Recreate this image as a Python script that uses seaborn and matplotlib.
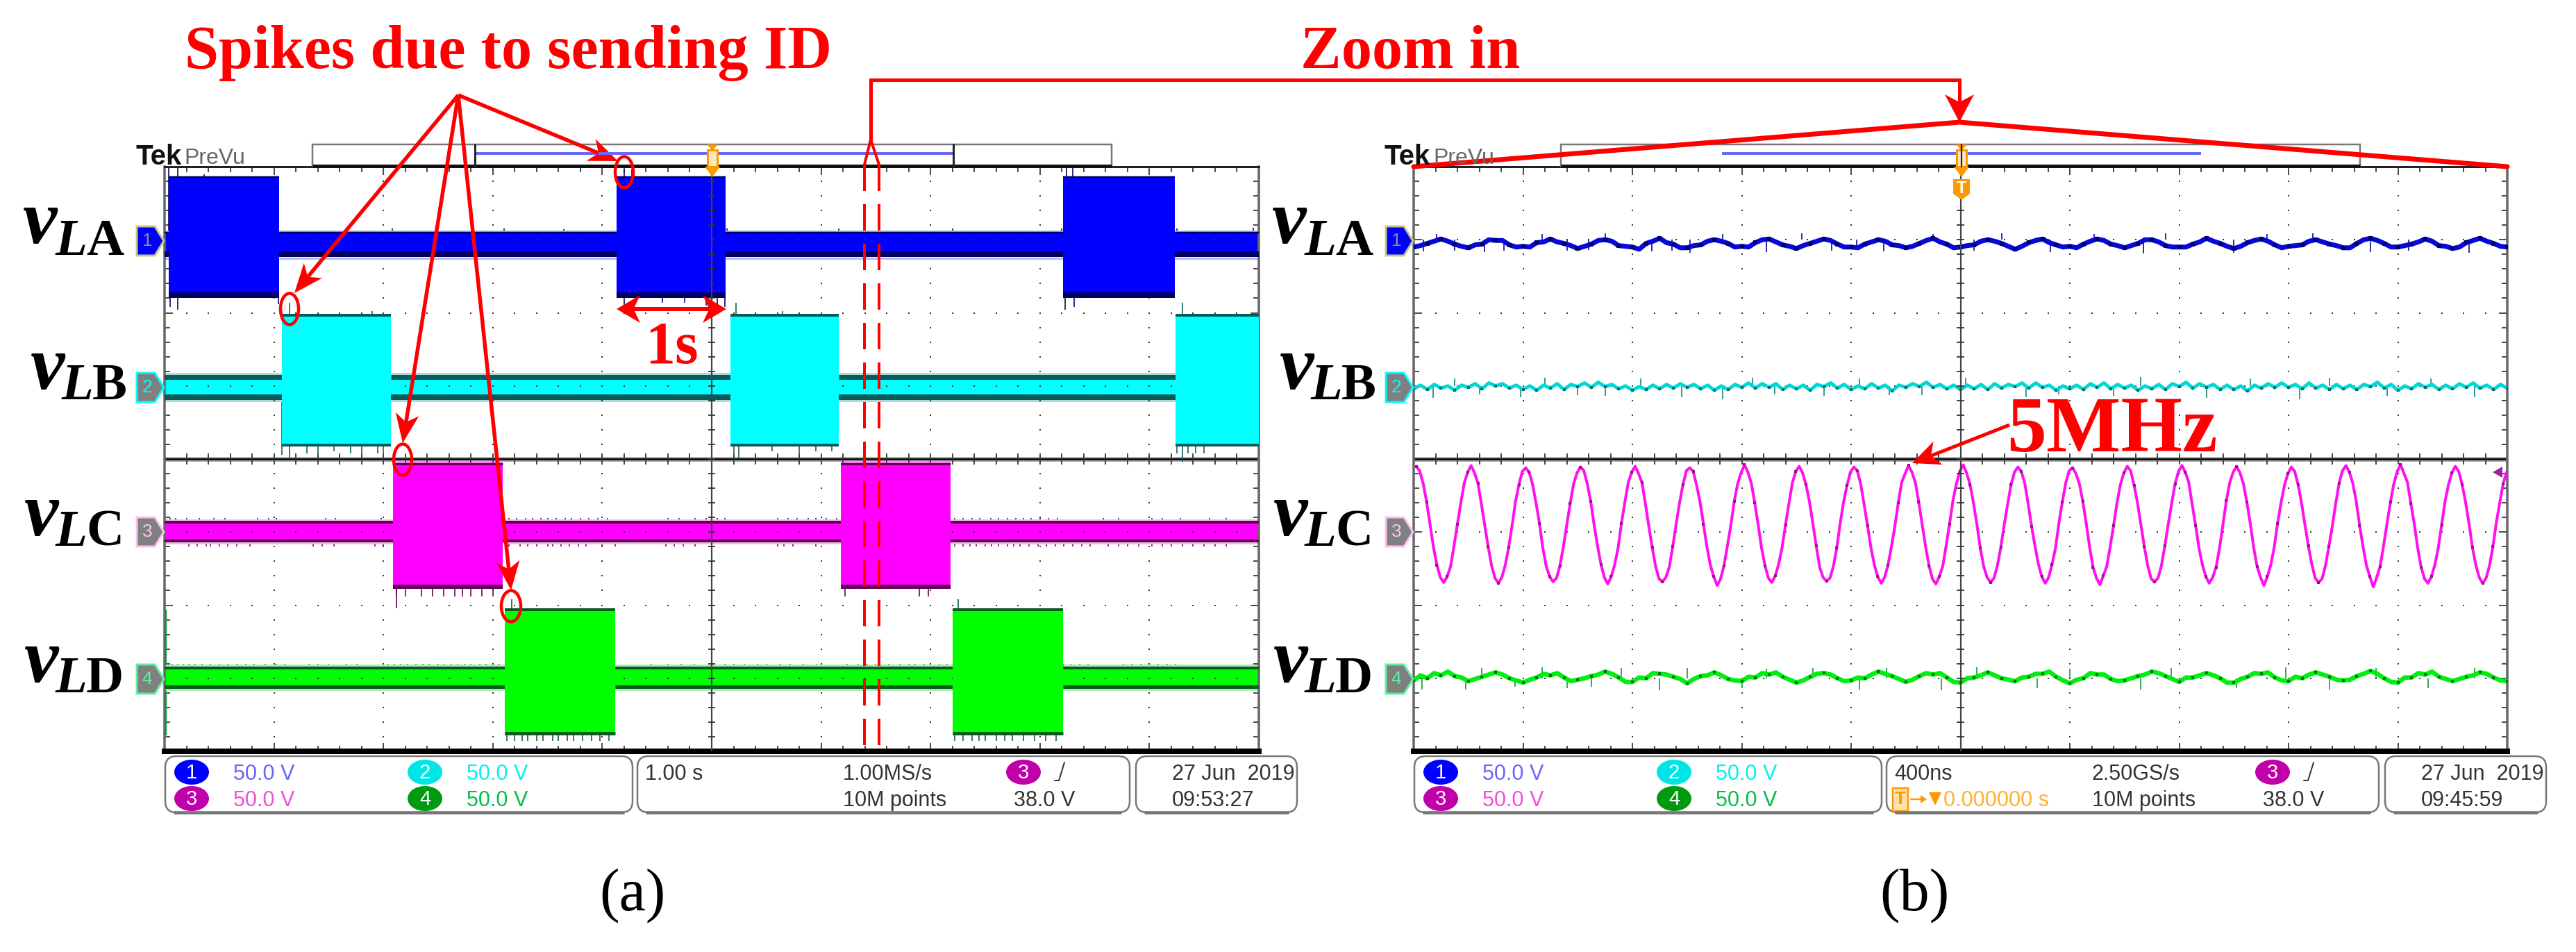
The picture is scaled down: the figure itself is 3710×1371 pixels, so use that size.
# scope captures (a) and (b) redrawn with seaborn
import numpy as np
import pandas as pd
import matplotlib
matplotlib.use('Agg')
import matplotlib.pyplot as plt
import seaborn as sns
from matplotlib.patches import Ellipse, FancyBboxPatch, Polygon, Rectangle

sns.set_style('white')
plt.rcParams['font.family'] = ['Liberation Sans', 'DejaVu Sans']
plt.rcParams['text.color'] = 'black'

# screen (a): one second per division, values in volts
a_ground = [150, 50, -50, -150]
la_on = [0.04, 4.13, 8.21]
la_off = [1.05, 5.13, 9.23]
lb_on = [1.07, 5.17, 9.24]
lb_off = [2.07, 6.16, 10.0]
lc_on = [2.09, 6.18]
lc_off = [3.09, 7.18]
ld_on = [3.11, 7.20]
ld_off = [4.12, 8.21]
la_burst = [43.3, -39.8]
lb_burst = [49.2, -41.5]
lc_burst = [47.5, -39.0]
ld_burst = [47.9, -39.0]
la_base = [5.3, -11.8]
lb_base = [7.6, -9.5]
lc_base = [7.6, -7.0]
ld_base = [8.0, -7.2]

la_spike_t = [0.04, 0.12, 0.36, 0.05, 0.12, 1.04, 2.08, 3.1, 3.65, 4.2, 4.27, 4.2, 4.3, 4.55, 4.75, 4.95, 5.05, 5.12, 5.14, 6.16, 7.2, 8.2, 8.24, 8.3, 8.23, 8.31, 9.25, 9.95]
la_spike_v = [52, 52, 45, -46, -48, -44, 7.5, 7.5, 7.3, 48, 48, -45, -44, -43, -43, -45, -46, -46, 7.5, 7.5, 7.5, 7.5, 50, 50, -48, -46, 7.5, 8]
lb_spike_t = [1.14, 1.9, 5.22, 5.65, 9.3, 1.07, 1.14, 1.3, 1.4, 1.55, 1.7, 1.8, 1.95, 2.0, 5.2, 5.25, 5.55, 5.8, 5.95, 6.1, 9.25, 9.3, 9.35, 9.42, 9.5]
lb_spike_v = [57, 51, 57, 51, 57, -47, -50, -46, -46, -45, -46, -46, -46, -46, -46, -50, -45, -46, -45, -45, -46, -52, -46, -46, -46]
lc_spike_t = [0.05, 0.1, 0.2, 0.32, 0.45, 0.55, 0.85, 0.95, 1.02, 1.47, 1.56, 1.98, 3.15, 3.22, 3.3, 3.36, 3.44, 3.5, 3.58, 3.66, 3.72, 3.8, 3.88, 3.96, 4.05, 4.6, 4.7, 4.85, 4.95, 5.05, 5.12, 5.6, 5.7, 5.78, 5.88, 5.95, 6.05, 6.14, 7.22, 7.3, 7.38, 7.45, 7.55, 7.62, 7.7, 7.78, 7.85, 7.92, 8.0, 8.08, 8.16, 8.58, 8.72, 9.02, 9.12, 9.28, 9.55, 9.7]
lc_low_t = [0.22, 0.3, 0.38, 0.42, 0.5, 0.58, 0.66, 0.78, 1.36, 1.44, 1.55, 1.92, 2.0, 3.15, 3.25, 3.32, 3.4, 3.5, 3.55, 3.62, 3.7, 3.78, 3.85, 4.0, 4.12, 4.58, 4.66, 4.74, 4.85, 5.6, 5.66, 5.74, 5.95, 7.22, 7.3, 7.36, 7.42, 7.5, 7.56, 7.62, 7.7, 7.76, 7.82, 7.9, 7.98, 8.06, 8.14, 8.22, 8.3, 8.38, 8.46, 8.62, 8.72, 8.8, 8.9, 9.02, 9.12, 9.2, 9.3, 9.4, 9.5, 9.6, 9.7]
lc_burst_low_t = [2.12, 2.2, 2.35, 2.45, 2.55, 2.65, 2.72, 2.8, 2.9, 3.0, 6.22, 6.9, 6.98]
ld_spike_t = [0.07, 0.12, 0.17, 0.22, 0.28, 0.34, 0.42, 0.5, 0.58, 0.66, 0.74, 0.82, 0.92, 1.02, 1.1, 1.32, 1.4, 1.5, 1.66, 1.76, 2.04, 2.1, 2.16, 2.22, 2.3, 2.36, 2.42, 2.5, 2.56, 2.62, 2.68, 2.74, 2.8, 2.88, 2.94, 3.0, 3.06, 4.45, 4.6, 4.72, 4.84, 5.12, 5.2, 5.3, 5.42, 5.5, 5.62, 5.72, 5.84, 5.96, 6.24, 6.34, 6.42, 6.5, 6.62, 6.72, 6.8, 6.86, 6.94, 7.0, 7.08, 7.15, 8.22, 8.28, 8.36, 8.44, 8.76, 8.84, 8.92, 9.0, 9.08, 9.16, 9.24, 9.98]
ld_burst_low_t = [3.13, 3.2, 3.27, 3.32, 3.4, 3.46, 3.55, 3.6, 3.68, 3.74, 3.82, 3.9, 3.98, 4.06, 7.22, 7.3, 7.38, 7.44, 7.5, 7.6, 7.68, 7.75, 7.85, 7.95, 8.05, 8.15]
ld_edge_t = [0.01]

# screen (b): 400 ns per division, one sample every 25 ns (12.5 ns for the 5 MHz trace)
b_ground = [150, 50, -50, -150]
la_volts = [
    -5.0, -4.0, -2.5, -1.0, 0.5, -1.0, -3.0, -4.5,
    -5.5, -3.5, -3.0, 0.0, -0.5, -0.5, -3.5, -5.0,
    -4.5, -5.0, -2.0, -1.5, 0.5, -1.5, -2.5, -4.0,
    -6.0, -4.5, -3.0, -0.5, 0.0, -1.0, -4.0, -4.5,
    -5.0, -6.5, -2.5, -1.0, 1.0, -2.0, -3.0, -5.5,
    -5.5, -4.0, -3.5, -1.0, 0.0, -1.0, -2.5, -5.0,
    -4.5, -5.0, -2.0, 0.0, 0.5, -1.5, -3.5, -4.5,
    -6.0, -4.0, -2.5, -1.0, 0.5, -0.5, -3.0, -5.0,
    -5.0, -5.5, -3.0, -1.5, 0.0, -1.0, -3.5, -4.0,
    -5.5, -4.5, -2.5, -0.5, 1.0, -1.5, -3.0, -5.5,
    -5.0, -4.0, -3.5, -1.0, 0.0, -1.0, -2.5, -4.5,
    -6.5, -4.5, -2.0, -0.5, 0.5, -2.0, -3.5, -5.0,
    -4.5, -5.5, -3.0, -1.0, 0.5, -0.5, -3.0, -4.0,
    -5.5, -4.0, -2.5, 0.0, 0.0, -1.5, -4.0, -5.0,
    -5.0, -5.0, -3.0, -1.5, 1.0, -1.0, -2.5, -4.5,
    -6.0, -4.5, -2.0, -0.5, 0.5, -1.0, -3.5, -5.5,
    -4.5, -4.0, -3.5, -1.0, 0.0, -1.5, -3.0, -4.0,
    -5.5, -5.5, -2.5, 0.0, 1.0, -0.5, -2.5, -5.0,
    -5.0, -4.0, -3.0, -1.5, 0.5, -1.0, -4.0, -4.5,
    -6.0, -5.0, -2.0, -0.5, 1.0, -1.0, -2.5, -4.5,
    -5.0]
lb_volts = [
    -2.0, 0.5, -2.5, 1.0, -1.5, 0.0, -3.0, 0.5,
    -1.0, 1.5, -2.0, 2.0, 0.0, 1.5, -1.5, 0.5,
    -2.5, 0.0, -3.0, 0.5, -1.5, 1.5, -2.5, 1.0,
    -0.5, 2.0, -1.0, 2.5, -0.5, 1.0, -2.0, 0.0,
    -3.0, -0.5, -2.5, 0.5, -2.0, 1.0, -1.5, 1.5,
    -1.0, 1.0, -2.0, 0.5, -3.0, 0.0, -2.5, 1.0,
    -1.0, 2.0, -1.5, 1.5, -1.0, 1.5, -2.5, 0.5,
    -2.0, 0.5, -3.0, 1.0, -0.5, 2.0, -1.5, 1.0,
    -2.5, 0.0, -2.0, 1.5, -1.5, 0.5, -3.5, 0.5,
    -1.0, 1.5, -0.5, 2.5, -1.0, 1.0, -2.0, 0.5,
    -2.5, 0.5, -2.0, 1.0, -2.5, 1.5, -1.5, 1.0,
    -0.5, 2.0, -1.5, 2.0, -1.0, 0.5, -3.0, 0.0,
    -2.0, 0.5, -2.5, 1.5, -1.0, 2.0, -2.0, 1.0,
    -1.5, 0.5, -3.0, 0.0, -2.0, 1.0, -2.5, 1.5,
    -0.5, 2.5, -1.5, 1.5, -1.0, 1.0, -2.5, 0.5,
    -2.5, 0.0, -3.5, 0.5, -1.5, 1.5, -1.0, 2.0,
    -1.0, 1.0, -2.0, 2.0, -1.5, 0.5, -2.5, 1.0,
    -2.0, 0.5, -2.5, 1.0, -0.5, 2.5, -1.5, 1.0,
    -3.0, 0.0, -2.0, 1.5, -1.0, 1.0, -2.5, 0.5,
    -2.0, 1.5, -1.0, 2.0, -1.5, 0.5, -2.5, 1.0,
    -1.5]
lc_volts = [
    45.0, 41.5, 33.0, 20.5, 5.0, -10.5, -22.5, -31.0, -34.5, -30.5, -23.5, -9.5, 5.5, 20.0, 33.5, 41.0,
    45.5, 40.5, 33.5, 19.5, 4.5, -10.0, -23.0, -31.5, -35.0, -31.0, -22.5, -10.5, 4.5, 21.0, 32.5, 41.5,
    44.0, 41.0, 32.5, 20.0, 6.0, -11.0, -23.5, -30.5, -34.0, -31.5, -23.0, -10.0, 5.0, 19.5, 33.0, 40.5,
    44.5, 42.0, 33.0, 21.0, 5.0, -9.5, -22.0, -31.0, -35.5, -30.5, -22.5, -11.0, 6.0, 20.5, 34.0, 41.0,
    45.0, 40.0, 34.0, 19.5, 4.0, -10.5, -23.5, -32.0, -34.0, -31.0, -24.0, -10.0, 5.5, 20.0, 32.5, 42.0,
    44.0, 41.5, 32.0, 20.5, 5.5, -10.0, -22.5, -30.5, -36.5, -32.0, -23.0, -9.5, 4.5, 21.0, 33.0, 40.5,
    46.0, 41.0, 33.5, 20.0, 5.0, -11.0, -23.0, -31.5, -34.5, -30.0, -22.0, -10.5, 5.0, 19.5, 33.5, 41.5,
    45.0, 40.5, 32.5, 21.0, 6.0, -9.5, -24.0, -31.0, -33.5, -31.5, -23.5, -11.0, 6.0, 20.5, 32.0, 41.0,
    44.5, 42.0, 33.0, 19.0, 4.5, -10.5, -22.5, -30.5, -35.0, -31.0, -22.5, -10.0, 4.0, 20.0, 34.0, 40.0,
    45.5, 41.0, 34.0, 20.5, 5.0, -10.0, -23.0, -32.0, -35.5, -30.5, -23.5, -9.5, 5.5, 21.5, 33.0, 41.5,
    46.0, 40.5, 32.5, 20.0, 5.5, -11.0, -23.5, -31.0, -34.5, -31.5, -23.0, -10.5, 5.0, 19.0, 32.5, 41.0,
    44.5, 41.5, 33.5, 19.5, 4.0, -9.5, -22.0, -30.5, -35.0, -31.0, -22.0, -11.0, 6.0, 20.5, 33.5, 42.0,
    44.0, 40.0, 33.0, 21.0, 6.0, -10.5, -24.0, -31.5, -36.0, -30.0, -23.5, -10.0, 4.5, 20.0, 32.5, 40.5,
    45.0, 42.0, 32.0, 20.0, 5.0, -10.0, -23.0, -32.0, -34.0, -31.5, -23.0, -9.5, 5.5, 19.5, 33.0, 41.5,
    45.5, 41.0, 34.0, 19.0, 4.5, -11.0, -22.5, -30.5, -35.0, -31.0, -24.0, -11.0, 5.0, 21.5, 34.0, 41.0,
    45.0, 40.5, 33.0, 20.5, 6.0, -10.5, -23.5, -31.0, -36.5, -30.5, -22.5, -10.5, 6.0, 20.0, 32.0, 40.0,
    44.5, 41.5, 32.5, 20.0, 5.0, -9.5, -22.0, -31.5, -34.5, -32.0, -23.0, -10.0, 4.0, 19.5, 33.5, 42.0,
    45.5, 41.0, 33.5, 21.0, 4.5, -10.0, -23.0, -30.5, -37.5, -31.0, -23.5, -9.5, 5.5, 20.5, 33.0, 41.5,
    46.0, 40.0, 34.0, 19.5, 5.5, -11.0, -24.0, -32.0, -35.0, -30.5, -22.5, -11.0, 5.0, 21.0, 32.5, 40.5,
    45.0, 41.5, 32.5, 20.5, 6.0, -10.5, -22.5, -31.0, -35.0, -31.5, -23.0, -10.0, 6.5, 20.0, 33.0, 41.0]
ld_volts = [
    -1.5, 2.0, 0.0, 3.5, 2.0, 4.5, 1.5, 0.5,
    -2.0, -0.5, 1.0, 2.5, 4.0, 2.5, 0.0, -1.5,
    -3.0, -1.0, 0.5, 3.0, 2.0, 3.5, 0.5, -2.0,
    -1.0, 0.0, 1.5, 2.5, 4.5, 3.0, 0.5, -2.5,
    -2.5, 0.5, 0.0, 3.5, 3.0, 2.5, 1.0, -0.5,
    -3.5, -0.5, 1.5, 2.0, 4.0, 2.0, -0.5, -1.5,
    -2.0, 1.0, 0.5, 3.5, 2.5, 4.0, 1.0, -1.0,
    -3.0, -1.5, 1.0, 3.0, 3.5, 2.5, 0.0, -2.0,
    -1.5, 0.5, 0.0, 2.5, 4.5, 3.0, 1.5, -0.5,
    -2.5, -1.0, 1.5, 3.5, 2.5, 3.5, 0.5, -2.5,
    -3.0, 0.0, 0.5, 2.0, 4.0, 2.0, 0.0, -1.0,
    -2.0, 0.5, 1.0, 3.0, 3.0, 4.5, 1.0, -1.5,
    -3.5, -1.0, 0.0, 3.5, 2.5, 2.5, -0.5, -2.0,
    -1.5, 0.0, 1.5, 2.5, 4.5, 3.5, 1.5, -0.5,
    -2.5, 0.5, 0.5, 2.0, 3.5, 2.0, 0.0, -3.0,
    -3.0, -0.5, 1.0, 3.5, 3.0, 4.0, 0.5, -1.5,
    -2.0, 1.0, 0.0, 2.5, 4.0, 2.5, 1.0, -1.0,
    -1.5, -1.0, 1.5, 3.0, 5.0, 3.0, 0.0, -2.5,
    -3.0, 0.5, 0.5, 3.5, 2.5, 4.5, 1.0, -0.5,
    -2.0, -0.5, 1.0, 2.0, 4.0, 3.0, 0.5, -1.5,
    -2.0]
la_b_spike_ns = [35, 85, 150, 260, 330, 470, 560, 640, 700, 870, 945, 1010, 1130, 1290, 1420, 1530, 1620, 1720, 1900, 2050, 2150, 2330, 2490, 2670, 2750, 3000, 3120, 3290, 3500, 3640, 3860]
la_b_spike_v = [-8.0, 4.0, -7.5, -8.5, -7.5, 4.0, -7.5, -7.0, 4.5, -8.0, -7.5, -9.0, 4.0, -8.5, 4.5, -7.5, -7.0, -8.0, 4.0, -7.5, 4.5, -8.5, 4.0, -9.5, 4.5, -9.0, 4.0, 4.5, -8.5, -7.5, -9.0]
lb_b_spike_ns = [70, 150, 240, 390, 480, 600, 700, 830, 980, 1130, 1240, 1320, 1500, 1630, 1740, 1860, 2020, 2240, 2360, 2560, 2660, 2900, 3060, 3240, 3350, 3560, 3720, 3880]
lb_b_spike_v = [-8.0, 5.0, -6.0, -7.5, 5.5, -6.5, -7.0, 5.0, -7.5, -9.0, 5.5, -6.0, -7.0, 5.0, -6.5, -6.5, 5.5, -7.5, -6.0, -7.0, 6.0, -8.0, 5.0, -9.0, 5.5, -7.0, 5.0, -7.5]
ld_b_spike_ns = [30, 190, 250, 370, 470, 560, 650, 760, 900, 1000, 1200, 1290, 1460, 1630, 1730, 1930, 2060, 2280, 2400, 2660, 2770, 3010, 3190, 3350, 3520, 3710, 3880]
ld_b_spike_v = [-7.5, -7.5, 7.0, -6.0, 7.5, -7.0, -6.0, 7.0, -8.0, 7.0, -7.0, 6.5, 7.0, -7.5, 7.0, -8.0, 7.5, -7.0, 6.5, -7.5, 7.0, -7.0, 7.5, -7.5, 7.0, -7.0, 7.0]

channel_names = ['LA', 'LB', 'LC', 'LD']
channel_text = ['1', '2', '3', '4']
volts_text = '50.0 V'
a_time_text = ['1.00 s', '1.00MS/s', '10M points', '38.0 V', '27 Jun  2019', '09:53:27']
b_time_text = ['400ns', '2.50GS/s', '10M points', '38.0 V', '27 Jun  2019', '09:45:59']
trigger_text = '0.000000 s'

PX = 0.72  # one image pixel in points at dpi 100
RED = '#ff0000'
ORANGE = '#ff9900'
bright = ['#0000ff', '#00ffff', '#ff00ff', '#00ff00']
dark = ['#000060', '#0a5a5a', '#600050', '#0a5a20']
pale = ['#b8b8e8', '#a8dcdc', '#f4b8ec', '#a8ecb8']
badge = ['#0000ff', '#00e6e6', '#c000a8', '#009a10']
label_col = ['#6666ff', '#00f0f0', '#f050d8', '#00c040']
mark_fill = ['#0000ff', '#808080', '#808080', '#808080']
mark_edge = ['#c8c880', '#00ffff', '#ffc0f0', '#60f0a0']


def setup_screen(ax, x_max):
    ax.set_xlim(0, x_max)
    ax.set_ylim(-200, 200)
    div = x_max / 10
    ax.set_xticks(np.arange(11) * div)
    ax.set_xticks(np.arange(51) * div / 5, minor=True)
    ax.set_yticks(np.arange(9) * 50 - 200)
    ax.set_yticks(np.arange(41) * 10 - 200, minor=True)
    ax.set_xticklabels([])
    ax.set_yticklabels([])
    for which, ln in (('major', 12), ('minor', 8)):
        ax.tick_params(axis='both', which=which, direction='in', length=ln * PX, width=1.6 * PX,
                       color='#222222', top=True, bottom=True, left=True, right=True)
    for side in ['left', 'right']:
        ax.spines[side].set_color('#666666')
        ax.spines[side].set_linewidth(3.5 * PX)
    ax.spines['bottom'].set_color('#000000')
    ax.spines['bottom'].set_linewidth(8 * PX)
    ax.spines['top'].set_color('#222222')
    ax.spines['top'].set_linewidth(3 * PX)
    # graticule dots
    col_x = np.arange(1, 10) * div
    col_y = np.arange(1, 40) * 10 - 200
    xx, yy = np.meshgrid(col_x, col_y)
    ax.scatter(xx.ravel(), yy.ravel(), s=4, marker='s', color='#333333', linewidths=0, zorder=3)
    row_x = np.arange(1, 50) * div / 5
    for level in [-150, -100, -50, 50, 100, 150]:
        ax.scatter(row_x, np.full(row_x.size, level), s=4, marker='s', color='#333333', linewidths=0, zorder=3)
    # centre cross
    ax.axhline(0, color='#b0b0b0', lw=7 * PX, zorder=1)
    ax.axhline(0, color='#111111', lw=3 * PX, zorder=1)
    ax.axvline(5 * div, color='#444444', lw=2.2 * PX, zorder=5)
    ax.vlines(row_x, -4, 4, color='#333333', lw=1.8 * PX, zorder=1)
    ax.hlines(col_y, 5 * div - div / 30, 5 * div + div / 30, color='#333333', lw=1.8 * PX, zorder=5)


def edges_table(on, off, levels):
    rows = []
    for i, (t0, t1) in enumerate(zip(on, off)):
        for j, level in enumerate(levels):
            rows.append((i * 2 + j, t0, level))
            rows.append((i * 2 + j, t1, level))
    return pd.DataFrame(rows, columns=['segment', 't', 'v'])


def gaps_table(on, off, levels):
    starts = [0.0] + list(off)
    stops = list(on) + [10.0]
    return edges_table(starts, stops, levels)


def burst_trace(ax, idx, on, off, burst, base, widths):
    g = a_ground[idx]
    ax.fill_between([0, 10], g + base[1], g + base[0], color=bright[idx], lw=0, zorder=2)
    for t0, t1 in zip(on, off):
        ax.fill_between([t0, t1], g + burst[1], g + burst[0], color=bright[idx], lw=0, zorder=4)
    # pale glow just outside the base band
    for level, sign in ((base[0], 1), (base[1], -1)):
        table = gaps_table(on, off, [level])
        table['y'] = g + table.v + sign * 0.7
        sns.lineplot(data=table, x='t', y='y', units='segment', estimator=None, color=pale[idx],
                     linewidth=3 * PX, ax=ax, legend=False, zorder=1.8, solid_capstyle='butt')
    # dark rails along the envelope
    for table, lw_rail, top in ((gaps_table(on, off, [base[0]]), widths[0], True),
                                (gaps_table(on, off, [base[1]]), widths[1], False)):
        table['y'] = g + table.v + (-lw_rail * 0.24 if top else lw_rail * 0.24)
        sns.lineplot(data=table, x='t', y='y', units='segment', estimator=None, color=dark[idx],
                     linewidth=lw_rail * PX, ax=ax, legend=False, zorder=3.5, solid_capstyle='butt')
    for table, lw_rail, top in ((edges_table(on, off, [burst[0]]), widths[2], True),
                                (edges_table(on, off, [burst[1]]), widths[3], False)):
        table['y'] = g + table.v + (-lw_rail * 0.24 if top else lw_rail * 0.24)
        sns.lineplot(data=table, x='t', y='y', units='segment', estimator=None, color=dark[idx],
                     linewidth=lw_rail * PX, ax=ax, legend=False, zorder=4.5, solid_capstyle='butt')


def spikes(ax, idx, times, tips, ground, lw=1.6, zorder=1.5, color=None):
    ax.vlines(times, ground[idx], np.asarray(tips) + ground[idx], color=color or dark[idx],
              lw=lw * PX, zorder=zorder)


def ripple(ax, idx, times, volts, line, speck, line_w, speck_size, every):
    y = np.asarray(volts) + b_ground[idx]
    sns.lineplot(x=times, y=y, color=line, linewidth=line_w * PX, ax=ax, estimator=None, legend=False, zorder=4)
    sns.scatterplot(x=times[::every], y=y[::every], color=speck, s=speck_size, marker='s', linewidth=0,
                    ax=ax, legend=False, zorder=4.2)


def arrow(ov, x0, y0, x1, y1, lw=5.5, length=42, half=17):
    d = np.array([x1 - x0, y1 - y0], dtype=float)
    d /= np.hypot(*d)
    n = np.array([-d[1], d[0]])
    tip = np.array([x1, y1], dtype=float)
    back = tip - d * length
    notch = tip - d * length * 0.72
    ov.plot([x0, notch[0]], [y0, notch[1]], color=RED, lw=lw * PX, solid_capstyle='butt')
    ov.add_patch(Polygon([tip, back + n * half, notch, back - n * half], closed=True, color=RED, lw=0))


def ring(ov, x, y, w, h):
    ov.add_patch(Ellipse((x, y), w, h, fill=False, ec=RED, lw=4.5 * PX, zorder=8))


def scope_chrome(ov, ox, time_text, bx, is_b):
    """Preview strip, channel markers, readout boxes. ox is the screen's left edge in image pixels."""
    shift = ox - 237
    ov.text(195 + shift, 237, 'Tek', fontsize=29, fontweight='bold', color='#111111', va='baseline')
    ov.text(265 + shift, 236, 'PreVu', fontsize=23, color='#666666', va='baseline')
    left, right = bx[0], bx[1]
    ov.add_patch(Rectangle((left, 208), right - left, 31, fc='white', ec='#777777', lw=2.5 * PX))
    ov.plot([left, right], [239, 239], color='#111111', lw=5 * PX, solid_capstyle='butt')
    ov.plot([bx[2], bx[3]], [221, 221], color='#6a6af0', lw=4 * PX, solid_capstyle='butt')
    if not is_b:
        for x in bx[2:4]:
            ov.plot([x, x], [208, 240], color='#222222', lw=3 * PX)
    # trigger marker
    cx = bx[4]
    ov.add_patch(Polygon([(cx - 8, 208), (cx + 8, 208), (cx, 217)], color=ORANGE, lw=0, zorder=6))
    ov.add_patch(Rectangle((cx - 7, 216), 14, 24, fc='#ffe8c0', ec=ORANGE, lw=3 * PX, zorder=6))
    ov.add_patch(Polygon([(cx - 11, 240), (cx + 11, 240), (cx, 255)], color=ORANGE, lw=0, zorder=6))
    if is_b:
        ov.plot([cx, cx], [208, 240], color='#222222', lw=2.2 * PX, zorder=6.5)
        ov.add_patch(Polygon([(cx - 12, 258), (cx + 12, 258), (cx + 12, 279), (cx, 288), (cx - 12, 279)],
                             color=ORANGE, lw=0, zorder=6))
        ov.text(cx, 272, 'T', fontsize=17, fontweight='bold', color='white', ha='center', va='center', zorder=7)
    # channel markers and names
    for i, yc in enumerate([347, 558, 766, 978]):
        mx = ox - 40
        ov.add_patch(Polygon([(mx, yc - 21), (mx + 26, yc - 21), (mx + 39, yc), (mx + 26, yc + 21), (mx, yc + 21)],
                             fc=mark_fill[i], ec=mark_edge[i], lw=3 * PX))
        ov.text(mx + 15, yc, channel_text[i], fontsize=19, color='#8f8f8f' if i == 0 else mark_edge[i],
                ha='center', va='center')
    names = [(33, 350, 80, 367), (44, 560, 89, 575), (35, 771, 80, 786), (35, 982, 80, 997)]
    for (vx, vy, nx, ny), name in zip(names, channel_names):
        ov.text(vx + shift, vy, 'v', family='Liberation Serif', style='italic', fontweight='bold', fontsize=80)
        ov.text(nx + shift, ny, name[0], family='Liberation Serif', style='italic', fontsize=54, fontweight='bold')
        ov.text(nx + 44 + shift, ny, name[1], family='Liberation Serif', fontsize=54, fontweight='bold')
    # readout panel
    boxes = [(ox + 1, ox + 674), (ox + 681, ox + 1390), (ox + 1399, ox + 1631)]
    for b0, b1 in boxes:
        ov.add_patch(FancyBboxPatch((b0, 1089), b1 - b0, 81, boxstyle='round,pad=0,rounding_size=16',
                                    fc='white', ec='#777777', lw=2.5 * PX))
        ov.plot([b0 + 12, b1 - 12], [1170, 1170], color='#777777', lw=4.5 * PX, solid_capstyle='butt')
    rows = [1112, 1150]
    spots = [(39, rows[0], 0), (375, rows[0], 1), (39, rows[1], 2), (375, rows[1], 3)]
    for sx, sy, i in spots:
        ov.add_patch(Ellipse((ox + sx, sy), 50, 36, color=badge[i], lw=0))
        ov.text(ox + sx, sy + 1, channel_text[i], fontsize=21, color='white', ha='center', va='center')
        ov.text(ox + sx + 60, sy + 11, volts_text, fontsize=22, color=label_col[i], va='baseline')
    ov.add_patch(Ellipse((ox + 1237, rows[0]), 50, 36, color=badge[2], lw=0))
    ov.text(ox + 1237, rows[0] + 1, '3', fontsize=21, color='white', ha='center', va='center')
    ov.plot([ox + 1282, ox + 1288, ox + 1296], [1124, 1124, 1098], color='#333333', lw=2 * PX)
    grey = '#333333'
    ov.text(ox + 692, rows[0] + 11, time_text[0], fontsize=22, color=grey)
    ov.text(ox + 977, rows[0] + 11, time_text[1], fontsize=22, color=grey)
    ov.text(ox + 977, rows[1] + 11, time_text[2], fontsize=22, color=grey)
    ov.text(ox + 1223, rows[1] + 11, time_text[3], fontsize=22, color=grey)
    ov.text(ox + 1451, rows[0] + 11, time_text[4], fontsize=22, color=grey)
    ov.text(ox + 1451, rows[1] + 11, time_text[5], fontsize=22, color=grey)


fig = plt.figure(figsize=(37.1, 13.71), dpi=100)
W, H = 3710.0, 1371.0
ax_a = fig.add_axes([237 / W, 1 - 1082 / H, 1576 / W, 842 / H])
ax_b = fig.add_axes([2036 / W, 1 - 1082 / H, 1575 / W, 842 / H])
setup_screen(ax_a, 10.0)
setup_screen(ax_b, 4000.0)

# screen (a)
burst_trace(ax_a, 0, la_on, la_off, la_burst, la_base, (2.5, 8, 2.5, 8))
burst_trace(ax_a, 1, lb_on, lb_off, lb_burst, lb_base, (7, 8, 4, 4))
burst_trace(ax_a, 2, lc_on, lc_off, lc_burst, lc_base, (4, 4, 3, 6))
burst_trace(ax_a, 3, ld_on, ld_off, ld_burst, ld_base, (4, 5, 4, 5))
spikes(ax_a, 0, la_spike_t, la_spike_v, a_ground)
spikes(ax_a, 1, lb_spike_t, lb_spike_v, a_ground)
spikes(ax_a, 2, lc_spike_t, [9.8] * len(lc_spike_t), a_ground)
spikes(ax_a, 2, lc_low_t, [-9.8] * len(lc_low_t), a_ground)
spikes(ax_a, 2, lc_burst_low_t, [-44] * len(lc_burst_low_t), a_ground)
spikes(ax_a, 3, ld_spike_t, [9.8] * len(ld_spike_t), a_ground)
spikes(ax_a, 3, ld_burst_low_t, [-43] * len(ld_burst_low_t), a_ground)
spikes(ax_a, 3, ld_edge_t, [47], a_ground, lw=2.2, color='#00a040')
spikes(ax_a, 3, ld_edge_t, [-39], a_ground, lw=2.2, color='#00a040')
spikes(ax_a, 3, [3.17, 7.25], [54, 54], a_ground, zorder=1.5)
spikes(ax_a, 2, [2.12], [-52], a_ground)
ax_a.set(xlabel='', ylabel='')

# screen (b)
b_time = np.arange(len(la_volts)) * 25
lc_time = np.arange(len(lc_volts)) * 12.5 + 10
spikes(ax_b, 0, la_b_spike_ns, la_b_spike_v, b_ground, color='#000090')
spikes(ax_b, 1, lb_b_spike_ns, lb_b_spike_v, b_ground, color='#0a8080')
spikes(ax_b, 3, ld_b_spike_ns, ld_b_spike_v, b_ground, color='#00a020')
ripple(ax_b, 0, b_time, la_volts, '#0808d8', '#000070', 7, 14, 2)
ripple(ax_b, 1, b_time, lb_volts, '#00d8d8', '#0a7070', 5, 6, 2)
ripple(ax_b, 2, lc_time, lc_volts, '#ff10ee', '#901880', 4, 5, 3)
ripple(ax_b, 3, b_time, ld_volts, '#00ee10', '#007010', 6.5, 10, 2)
ax_b.set(xlabel='', ylabel='')

# overlay in image pixels for the hand drawn notes and the scope chrome
ov = fig.add_axes([0, 0, 1, 1], zorder=10)
ov.set_xlim(0, W)
ov.set_ylim(H, 0)
ov.axis('off')
ov.patch.set_alpha(0)

scope_chrome(ov, 237, a_time_text, (450, 1601, 684, 1373, 1026), False)
scope_chrome(ov, 2036, b_time_text, (2248, 3399, 2480, 3170, 2825), True)

# orange trigger readout on (b)
ov.add_patch(Rectangle((2726, 1135), 22, 33, fc='#ffe0b0', ec=ORANGE, lw=2.5 * PX))
ov.text(2737, 1151, 'T', fontsize=19, fontweight='bold', color=ORANGE, ha='center', va='center')
ov.plot([2752, 2770], [1151, 1151], color=ORANGE, lw=2.5 * PX)
ov.add_patch(Polygon([(2766, 1145), (2775, 1151), (2766, 1157)], color=ORANGE, lw=0))
ov.add_patch(Polygon([(2778, 1141), (2796, 1141), (2787, 1160)], color=ORANGE, lw=0))
ov.text(2799, 1161, trigger_text, fontsize=22, color='#ffb030')
ov.add_patch(Polygon([(3590, 680), (3604, 672), (3604, 688)], color='#a020a0', lw=0))

# notes
serif = 'Liberation Serif'
ov.text(266, 98, 'Spikes due to sending ID', family=serif, fontweight='bold', fontsize=63.5, color=RED)
ov.text(1873, 98, 'Zoom in', family=serif, fontweight='bold', fontsize=63.5, color=RED)
ov.text(929, 523, '1s', family=serif, fontweight='bold', fontsize=62, color=RED)
ov.text(2890, 650, '5MHz', family=serif, fontweight='bold', fontsize=82, color=RED)
ov.text(911, 1310, '(a)', family=serif, fontsize=62, ha='center', color='black')
ov.text(2757, 1310, '(b)', family=serif, fontsize=62, ha='center', color='black')

arrow(ov, 660, 137, 890, 232)
arrow(ov, 660, 137, 424, 422)
arrow(ov, 660, 137, 580, 638)
arrow(ov, 660, 137, 736, 850)
ring(ov, 899, 248, 26, 45)
ring(ov, 417, 445, 26, 45)
ring(ov, 580, 662, 26, 45)
ring(ov, 736, 873, 28, 45)

# 1 s span
arrow(ov, 967, 445, 888, 445, lw=6, length=34, half=20)
arrow(ov, 967, 445, 1046, 445, lw=6, length=34, half=20)

# zoom window and bracket
ov.plot([1254, 1254, 2822, 2822], [201, 115, 115, 150], color=RED, lw=5 * PX, solid_joinstyle='miter')
arrow(ov, 2822, 145, 2822, 176, lw=5, length=40, half=21)
ov.plot([1245, 1254, 1266], [237, 201, 237], color=RED, lw=4 * PX)
for x in [1245, 1266]:
    ov.plot([x, x], [237, 1076], color=RED, lw=4 * PX, linestyle=(0, (38 / 4.0, 19 / 4.0)))
ov.plot([2036, 2822, 3611], [240, 176, 240], color=RED, lw=7 * PX, solid_joinstyle='miter')
arrow(ov, 2894, 612, 2754, 667, lw=5, length=40, half=18)

fig.savefig('out.png', dpi=100)
